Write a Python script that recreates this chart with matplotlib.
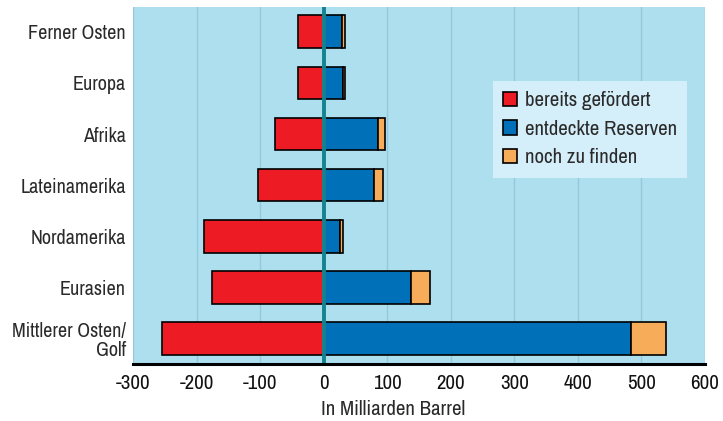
import numpy as np
import matplotlib.pyplot as plt
from matplotlib.patches import Patch

# Regions, top to bottom
regions = ['Ferner Osten', 'Europa', 'Afrika', 'Lateinamerika',
           'Nordamerika', 'Eurasien', 'Mittlerer Osten/\nGolf']

# Milliarden Barrel
gefoerdert = [41, 41, 76, 103, 188, 175, 254]      # drawn to the left
entdeckt = [29, 30, 85, 80, 26, 138, 483]
noch_zu_finden = [5, 4, 12, 14, 5, 29, 56]

xticks = [-300, -200, -100, 0, 100, 200, 300, 400, 500, 600]

c_red = '#ED1C24'
c_blue = '#0070B8'
c_orange = '#F7AC5A'
c_bg = '#ADDFEF'

plt.rcParams['font.family'] = ['Archivo Narrow', 'DejaVu Sans']

fig = plt.figure(figsize=(7.23, 4.21), dpi=100)
ax = fig.add_axes([0.184, 0.135, 0.791, 0.848])
ax.set_facecolor(c_bg)

y = np.arange(len(regions))
h = 0.635
g = np.array(gefoerdert)
e = np.array(entdeckt)
n = np.array(noch_zu_finden)

for xv in xticks:
    ax.axvline(xv, color='#93C9DB', lw=1, zorder=1)

ax.barh(y, -g, height=h, color=c_red, edgecolor='black', lw=1.2, zorder=3)
ax.barh(y, e, height=h, color=c_blue, edgecolor='black', lw=1.2, zorder=3)
ax.barh(y, n, left=e, height=h, color=c_orange, edgecolor='black', lw=1.2, zorder=3)

ax.axvline(0, color='#13838F', lw=2.8, zorder=4)

ax.set_xlim(-300, 600)
ax.set_ylim(len(regions) - 0.5, -0.48)
ax.set_xticks(xticks)
ax.set_xticklabels([str(v) for v in xticks], fontsize=15, color='#111111')
ax.set_yticks(y)
ax.set_yticklabels(regions, fontsize=14.5, color='#2a2a2a', linespacing=1.0)
ax.tick_params(axis='both', length=0)
ax.tick_params(axis='x', pad=7)
ax.tick_params(axis='y', pad=5)

for s in ['top', 'right', 'left']:
    ax.spines[s].set_visible(False)
ax.spines['bottom'].set_linewidth(2.2)
ax.spines['bottom'].set_zorder(5)

ax.set_xlabel('In Milliarden Barrel', fontsize=15, color='#2a2a2a', labelpad=5, x=0.455)

handles = [Patch(facecolor=c_red, edgecolor='black', lw=1.2, label='bereits gefördert'),
           Patch(facecolor=c_blue, edgecolor='black', lw=1.2, label='entdeckte Reserven'),
           Patch(facecolor=c_orange, edgecolor='black', lw=1.2, label='noch zu finden')]
leg = ax.legend(handles=handles, loc='upper left', bbox_to_anchor=(0.629, 0.793),
                borderaxespad=0, fontsize=15, frameon=True, fancybox=False,
                facecolor='#D4EEFA', edgecolor='none', framealpha=1,
                handlelength=0.68, handleheight=0.68, handletextpad=0.35,
                labelspacing=0.45, borderpad=0.5)
for t in leg.get_texts():
    t.set_color('#2a2a2a')
leg.set_zorder(6)

fig.savefig('out.png', dpi=100, facecolor='white')
